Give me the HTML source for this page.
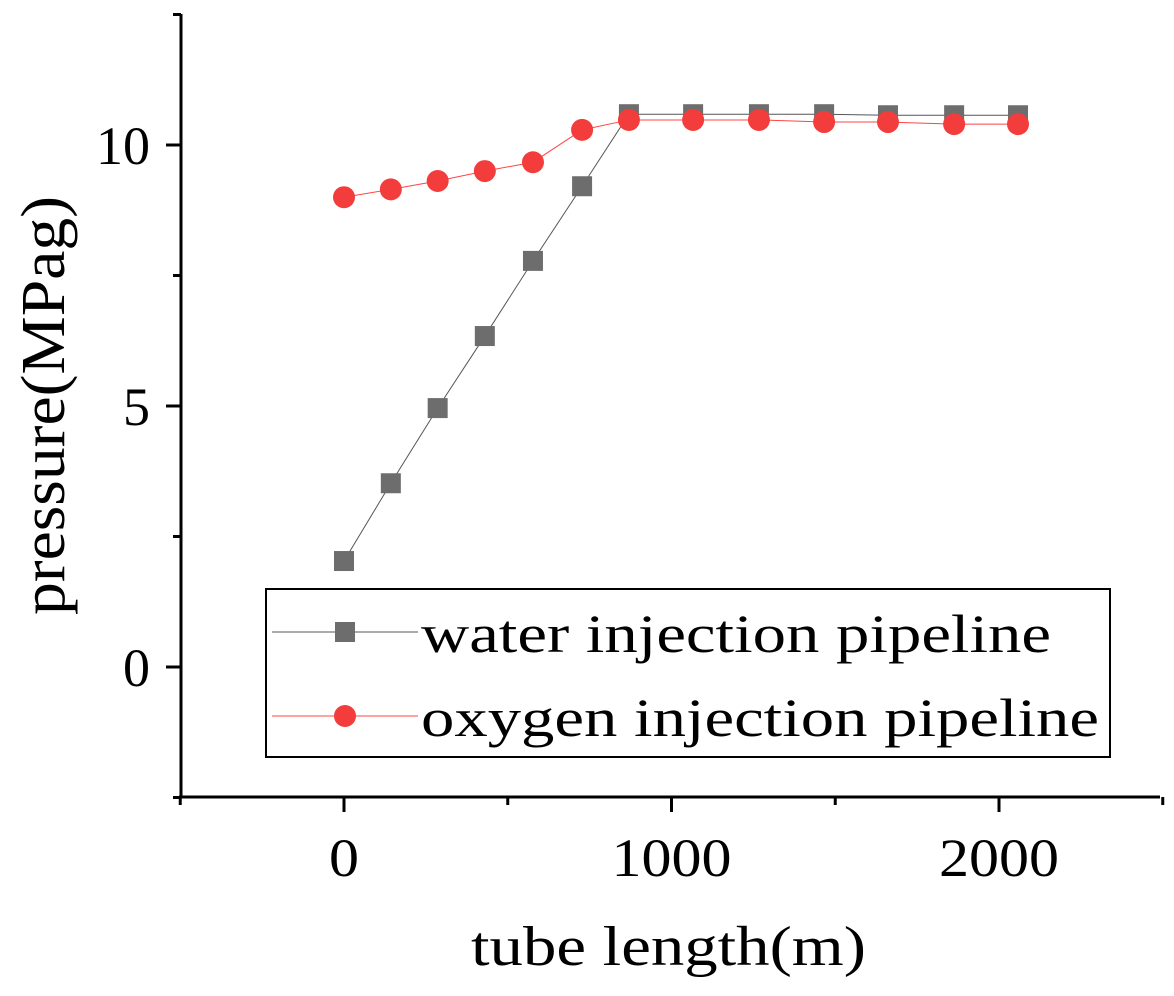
<!DOCTYPE html>
<html><head><meta charset="utf-8"><style>
html,body{margin:0;padding:0;background:#fff}
svg text{font-family:"Liberation Serif",serif;fill:#000}
</style></head><body>
<svg width="1174" height="991" viewBox="0 0 1174 991" xmlns="http://www.w3.org/2000/svg">
<g id="axes"></g>
<g id="series"></g>
<g id="legend">
  <rect x="266" y="589" width="844" height="168" fill="#fff" stroke="#000" stroke-width="2"/>
  <g>
    <line x1="272" y1="632" x2="418" y2="632" stroke="#555" stroke-width="1"/>
    <rect x="335" y="622" width="20" height="20" fill="#6d6d6d"/>
    <text x="421" y="652" font-size="54" textLength="630" lengthAdjust="spacingAndGlyphs">water injection pipeline</text>
  </g>
  <g>
    <line x1="272" y1="716" x2="418" y2="716" stroke="#f44" stroke-width="1"/>
    <circle cx="345" cy="716" r="11" fill="#f33c3c"/>
    <text x="421" y="736" font-size="54" textLength="678" lengthAdjust="spacingAndGlyphs">oxygen injection pipeline</text>
  </g>
</g>
<text x="471" y="965" font-size="56" textLength="395" lengthAdjust="spacingAndGlyphs">tube length(m)</text>
<text transform="translate(64,615) rotate(-90)" font-size="62" textLength="419" lengthAdjust="spacingAndGlyphs">pressure(MPag)</text>
</svg>
<script>
const xs = [0,143,286,430,577,727,870,1066,1267,1466,1661,1863,2058];
const waterP = [2.03,3.52,4.96,6.34,7.78,9.21,10.59,10.59,10.59,10.59,10.57,10.57,10.57];
const oxygenP = [9.0,9.15,9.31,9.5,9.67,10.29,10.48,10.48,10.48,10.44,10.44,10.40,10.40];
const xTicks = [0,1000,2000];
const xMinor = [-500,500,1500,2500];
const yTicks = [0,5,10];
const yMinor = [-2.5,2.5,7.5,12.5];

const NS='http://www.w3.org/2000/svg';
const X = v => 344 + (v-0)*0.3275;
const Y = v => 667 - v*52.2;
function mk(tag, attrs, parent){const e=document.createElementNS(NS,tag);for(const k in attrs)e.setAttribute(k,attrs[k]);parent.appendChild(e);return e;}
const ax=document.getElementById('axes'), se=document.getElementById('series');
let l=mk('line',{x1:181,y1:14,x2:181,y2:798,stroke:'#000','stroke-width':3},ax);


l=mk('line',{x1:179,y1:797,x2:1160,y2:797,stroke:'#000','stroke-width':3},ax);


xTicks.forEach(v=>{
  const t=mk('line',{x1:X(v),y1:797,x2:X(v),y2:812,stroke:'#000','stroke-width':3},ax);
  
  
  const s=String(v);
  const tx=mk('text',{x:X(v),y:876,'font-size':54,'text-anchor':'middle',textLength:30*s.length,lengthAdjust:'spacingAndGlyphs'},ax);tx.textContent=s;
  
  
});
xMinor.forEach(v=>{
  const t=mk('line',{x1:X(v),y1:797,x2:X(v),y2:805,stroke:'#000','stroke-width':3},ax);
  
  
});
yTicks.forEach(v=>{
  const t=mk('line',{x1:166,y1:Y(v),x2:181,y2:Y(v),stroke:'#000','stroke-width':3},ax);
  
  
  const s=String(v);
  const tx=mk('text',{x:150,y:Y(v)+19,'font-size':54,'text-anchor':'end',textLength:27*s.length,lengthAdjust:'spacingAndGlyphs'},ax);tx.textContent=s;
  
  
});
yMinor.forEach(v=>{
  const t=mk('line',{x1:173,y1:Y(v),x2:181,y2:Y(v),stroke:'#000','stroke-width':3},ax);
  
  
});
function series(vals,color,lineColor,shape,name){
  const p=mk('polyline',{points:xs.map((x,i)=>X(x)+','+Y(vals[i])).join(' '),fill:'none',stroke:lineColor,'stroke-width':1},se);
  
  
  xs.forEach((x,i)=>{
    let m;
    if(shape==='sq') m=mk('rect',{x:X(x)-10,y:Y(vals[i])-10,width:20,height:20,fill:color},se);
    else m=mk('circle',{cx:X(x),cy:Y(vals[i]),r:11,fill:color},se);
    
    
  });
}
series(waterP,'#6d6d6d','#555','sq','water');
series(oxygenP,'#f33c3c','#f44','ci','oxygen');
</script>
</body></html>
